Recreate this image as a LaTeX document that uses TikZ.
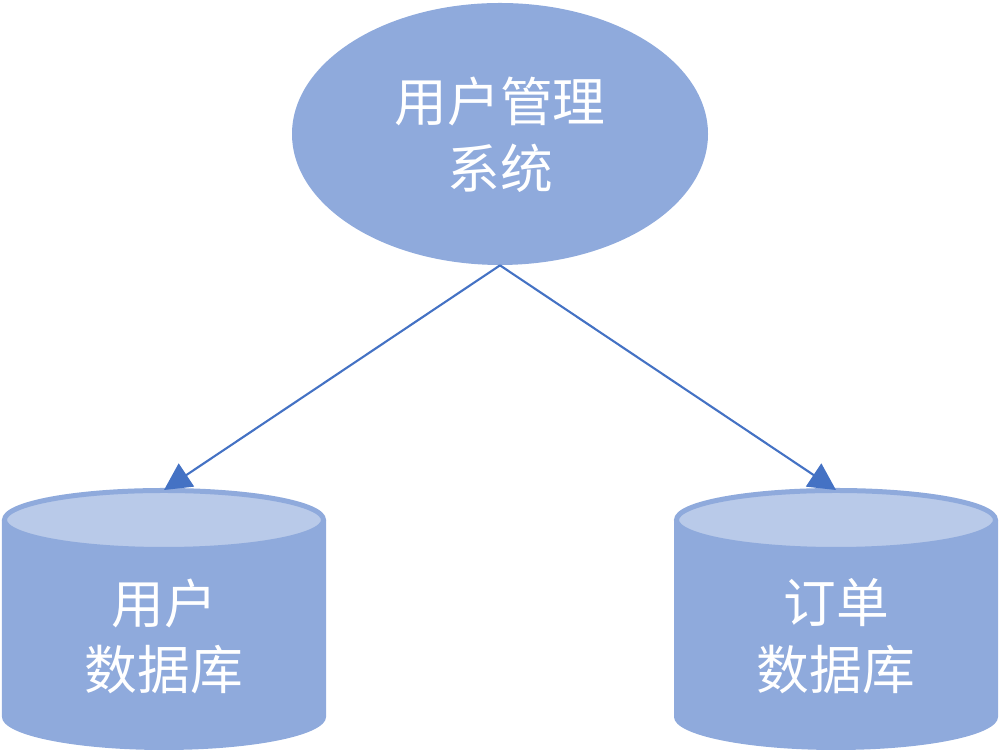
\documentclass[tikz,border=0pt]{standalone}
\usepackage{fontspec}
\newfontfamily\cjk{Noto Sans CJK SC}
\usetikzlibrary{arrows.meta,shapes.geometric}
\definecolor{bodyblue}{HTML}{8FAADC}
\definecolor{capblue}{HTML}{B9CAE9}
\definecolor{linkblue}{HTML}{4472C4}
\tikzset{
  label text/.style={text=white, align=center, inner sep=0pt,
    font=\cjk\fontsize{30}{38}\selectfont},
  cap line/.style={line width=0.100000cm, draw=bodyblue, fill=capblue},
  link/.style={draw=linkblue, line width=1.2pt,
    -{Triangle[length=0.540000cm,width=0.550000cm]}}
}
\begin{document}
\begin{tikzpicture}
                \useasboundingbox (0.000000,0.000000) rectangle (20.060000,15.020000);
                {

                % Marking system by ellipse
                \node [ellipse, fill=bodyblue, minimum width=8.320000cm, minimum height=5.240000cm, inner sep=0pt] (sys) at (10.000000,12.340000) {};%
                \node [label text] (systext) at (10.000000,12.330000) {用户管理\\系统};%

                % Drawing cylinder of user database
                \fill [bodyblue] (0.040000,4.620000) -- (0.040000,0.680000) arc [start angle=180, end angle=360, x radius=3.240000, y radius=0.660000] -- (6.520000,4.620000) -- cycle;%
                \draw [cap line] (3.280000,4.620000) ellipse [x radius=3.190000, y radius=0.590000];%
                \coordinate (userdbtop) at (3.280000,5.220000);
                \node [label text] (userdb) at (3.280000,2.290000) {用户\\数据库};%

                % Drawing cylinder of order database
                \fill [bodyblue] (13.480000,4.620000) -- (13.480000,0.680000) arc [start angle=180, end angle=360, x radius=3.240000, y radius=0.660000] -- (19.960000,4.620000) -- cycle;%
                \draw [cap line] (16.720000,4.620000) ellipse [x radius=3.190000, y radius=0.590000];%
                \coordinate (orderdbtop) at (16.720000,5.220000);
                \node [label text] (orderdb) at (16.720000,2.290000) {订单\\数据库};%

                % Drawing line sys userdb
                \draw [link] (sys.south) -- (userdbtop);%

                % Drawing line sys orderdb
                \draw [link] (sys.south) -- (orderdbtop);%
                }
            \end{tikzpicture}
\end{document}
